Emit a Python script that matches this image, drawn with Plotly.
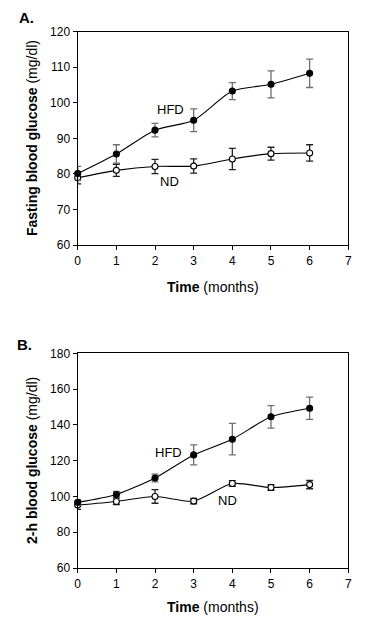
import plotly.graph_objects as go

months = [0, 1, 2, 3, 4, 5, 6]

# Panel A: fasting blood glucose (mg/dl)
a_hfd = [80.1, 85.6, 92.3, 95.1, 103.3, 105.2, 108.3]
a_hfd_err = [2.0, 2.6, 1.9, 3.2, 2.4, 3.8, 4.0]
a_nd = [78.9, 81.0, 82.1, 82.2, 84.2, 85.7, 85.9]
a_nd_err = [1.7, 1.7, 2.0, 2.0, 3.0, 1.8, 2.3]

# Panel B: 2-h blood glucose (mg/dl)
b_hfd = [96.7, 101.1, 110.3, 123.2, 132.0, 144.5, 149.3]
b_hfd_err = [1.5, 1.7, 2.2, 5.6, 8.8, 6.3, 6.2]
b_nd = [95.2, 97.2, 100.0, 97.4, 107.2, 105.0, 106.6]
b_nd_err = [2.4, 1.8, 3.8, 1.5, 1.6, 1.6, 2.3]

FONT = "Liberation Sans, Arial, sans-serif"
OFF = 8  # page body margin
W, H = 367 - OFF, 641 - OFF

def px(x):
    return (x - OFF) / W

def py(y):
    return 1 - (y - OFF) / H

fig = go.Figure()

def add_series(y, err, xa, ya, filled, errcolor):
    fig.add_trace(go.Scatter(
        x=months, y=y, xaxis=xa, yaxis=ya, mode="lines+markers",
        line=dict(color="black", width=1.1, shape="spline", smoothing=0.7),
        marker=dict(size=6, color="black" if filled else "white",
                    line=dict(color="black", width=1.1), symbol="circle"),
        error_y=dict(type="data", array=err, visible=True, color=errcolor,
                     thickness=1.3, width=3.5),
        showlegend=False, cliponaxis=False,
    ))

add_series(a_nd, a_nd_err, "x", "y", False, "#222222")
add_series(a_hfd, a_hfd_err, "x", "y", True, "#707070")
add_series(b_nd, b_nd_err, "x2", "y2", False, "#222222")
add_series(b_hfd, b_hfd_err, "x2", "y2", True, "#707070")

xdom = [px(77.7), px(348.3)]
axis_common = dict(showline=True, linecolor="black", linewidth=1.3, mirror=True,
                   ticks="outside", ticklen=4, tickwidth=1, tickcolor="black",
                   showgrid=False, zeroline=False, automargin=False,
                   tickfont=dict(family=FONT, size=12, color="black"))

fig.update_layout(
    width=W, height=H, margin=dict(l=0, r=0, t=0, b=0, autoexpand=False),
    paper_bgcolor="white", plot_bgcolor="white",
    xaxis=dict(domain=xdom, range=[0, 7], dtick=1, anchor="y", **axis_common),
    yaxis=dict(domain=[py(245), py(31.7)], range=[60, 120], dtick=10, anchor="x", **axis_common),
    xaxis2=dict(domain=xdom, range=[0, 7], dtick=1, anchor="y2", **axis_common),
    yaxis2=dict(domain=[py(568), py(353.3)], range=[60, 180], dtick=20, anchor="x2", **axis_common),
)

anns = []
def label(text, x, y, xref, yref, size=13, **kw):
    anns.append(dict(text=text, x=x, y=y, xref=xref, yref=yref, showarrow=False,
                     xanchor="center", yanchor="middle",
                     font=dict(family=FONT, size=size, color="black"), **kw))

label("HFD", 2.41, 98.0, "x", "y")
label("ND", 2.37, 77.9, "x", "y")
label("HFD", 2.35, 124.3, "x2", "y2")
label("ND", 3.88, 97.7, "x2", "y2")

label("<b>A.</b>", px(26), py(17), "paper", "paper", size=15)
label("<b>B.</b>", px(24), py(344), "paper", "paper", size=15)

label("<b>Fasting blood glucose</b> (mg/dl)", px(32), py(138), "paper", "paper", size=14, textangle=-90)
label("<b>2-h blood glucose</b> (mg/dl)", px(32), py(461), "paper", "paper", size=14, textangle=-90)
label("<b>Time</b> (months)", px(213), py(287), "paper", "paper", size=14)
label("<b>Time</b> (months)", px(213), py(607), "paper", "paper", size=14)

fig.update_layout(annotations=anns)
fig.write_html("out.html")
